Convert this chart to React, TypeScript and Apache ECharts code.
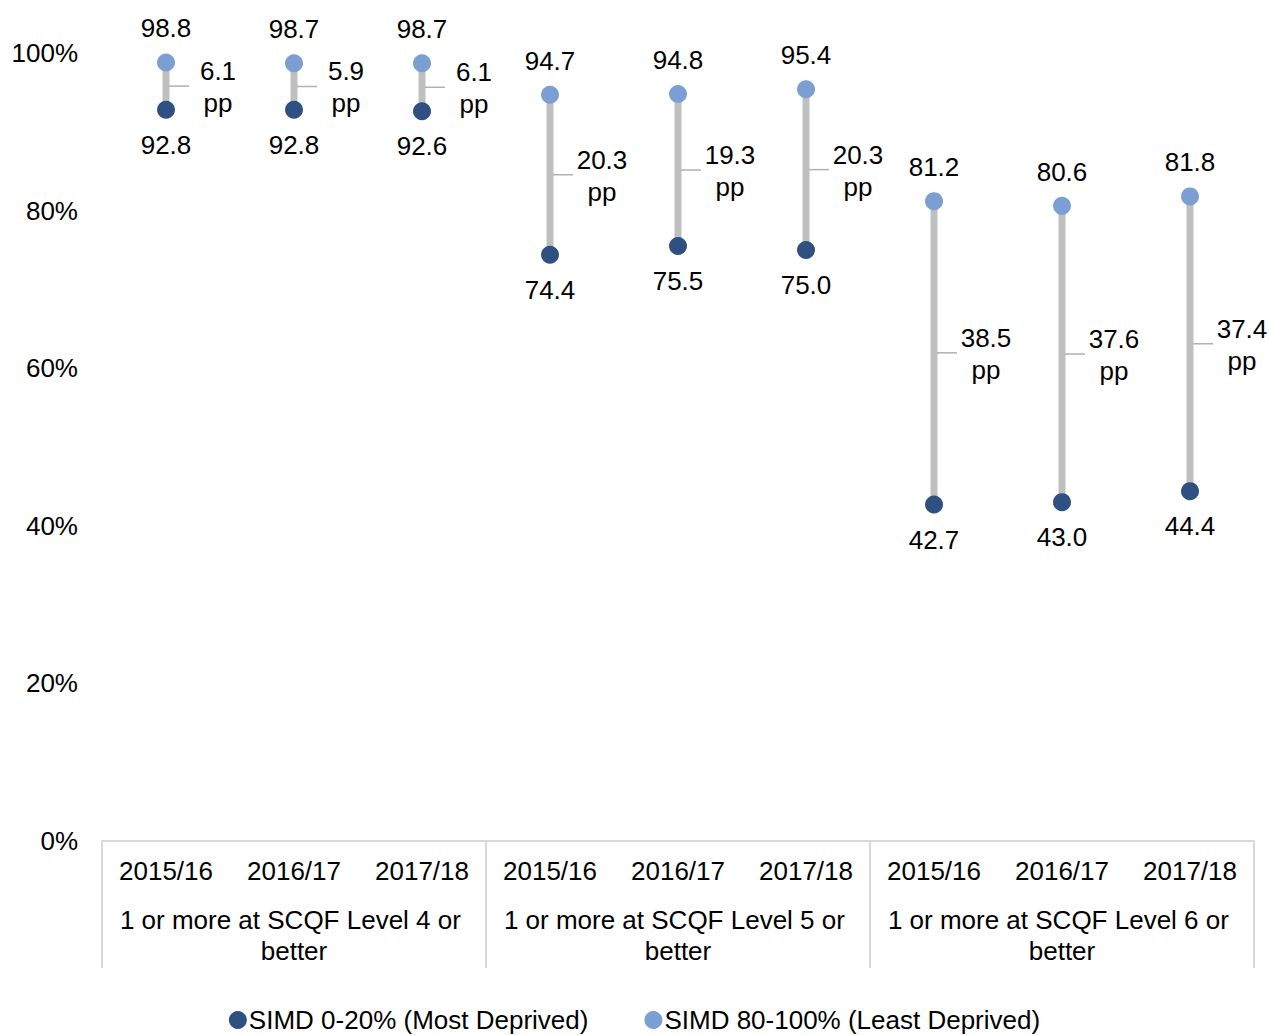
import React, { useEffect, useRef } from "react";
import * as echarts from "echarts";

const categories = ["2015/16", "2016/17", "2017/18", "2015/16", "2016/17", "2017/18", "2015/16", "2016/17", "2017/18"];
const groups = [
  "1 or more at SCQF Level 4 or better",
  "1 or more at SCQF Level 5 or better",
  "1 or more at SCQF Level 6 or better",
];
const mostDeprived = [92.8, 92.8, 92.6, 74.4, 75.5, 75.0, 42.7, 43.0, 44.4];
const leastDeprived = [98.8, 98.7, 98.7, 94.7, 94.8, 95.4, 81.2, 80.6, 81.8];
const gapValues = [6.1, 5.9, 6.1, 20.3, 19.3, 20.3, 38.5, 37.6, 37.4];
const seriesNames = ["SIMD 0-20% (Most Deprived)", "SIMD 80-100% (Least Deprived)"];

const FONT = "'Liberation Sans', Arial, sans-serif";
const FS = 26;
const DARK = "#2f5181";
const LIGHT = "#7b9fd3";
const GREY = "#bfbfbf";
const AXIS = "#d9d9d9";

export default function App() {
  const ref = useRef<HTMLDivElement>(null);
  useEffect(() => {
    if (!ref.current) return;
    const chart = echarts.init(ref.current, null, { renderer: "svg" });
    const rangeData = categories.map((_, i) => [i, mostDeprived[i], leastDeprived[i], gapValues[i]]);
    chart.setOption({
      animation: false,
      textStyle: { fontFamily: FONT },
      grid: { left: 102, right: 15, top: 53, bottom: 194, containLabel: false },
      legend: {
        data: seriesNames,
        top: 1002,
        left: "center",
        icon: "circle",
        itemWidth: 18,
        itemHeight: 18,
        itemGap: 56,
        itemStyle: { borderWidth: 0 },
        textStyle: { fontSize: FS, color: "#000", fontFamily: FONT, padding: [0, 0, 0, -3] },
      },
      xAxis: [
        {
          type: "category",
          data: categories,
          position: "bottom",
          axisLine: { show: true, lineStyle: { color: AXIS, width: 2 } },
          axisTick: {
            show: true,
            length: 127,
            interval: (index: number) => index % 3 === 0,
            lineStyle: { color: AXIS, width: 2 },
          },
          axisLabel: { interval: 0, margin: 17, fontSize: FS, color: "#000", fontFamily: FONT },
          splitLine: { show: false },
        },
        {
          type: "category",
          data: groups,
          position: "bottom",
          axisLine: { show: false },
          axisTick: { show: false },
          axisLabel: {
            interval: 0,
            margin: 63,
            fontSize: FS,
            color: "#000",
            fontFamily: FONT,
            width: 366,
            overflow: "break",
            lineHeight: 31,
          },
          splitLine: { show: false },
        },
      ],
      yAxis: {
        type: "value",
        min: 0,
        max: 100,
        interval: 20,
        axisLine: { show: false },
        axisTick: { show: false },
        splitLine: { show: false },
        axisLabel: { formatter: "{value}%", margin: 24, fontSize: FS, color: "#000", fontFamily: FONT },
      },
      series: [
        {
          type: "custom",
          name: "range",
          xAxisIndex: 0,
          z: 1,
          silent: true,
          encode: { x: 0, y: [1, 2] },
          data: rangeData,
          renderItem: (params: any, api: any) => {
            const i = api.value(0);
            const low = api.value(1);
            const high = api.value(2);
            const gap = api.value(3);
            const top = api.coord([i, high]);
            const bot = api.coord([i, low]);
            const midY = (top[1] + bot[1]) / 2;
            return {
              type: "group",
              children: [
                {
                  type: "line",
                  shape: { x1: top[0], y1: top[1], x2: bot[0], y2: bot[1] },
                  style: { stroke: GREY, lineWidth: 7 },
                },
                {
                  type: "line",
                  shape: { x1: top[0] + 3, y1: midY, x2: top[0] + 23, y2: midY },
                  style: { stroke: "#b0b0b0", lineWidth: 1.5 },
                },
                {
                  type: "text",
                  x: top[0] + 52,
                  y: midY + 1,
                  style: {
                    text: Number(gap).toFixed(1) + "\npp",
                    align: "center",
                    verticalAlign: "middle",
                    fontSize: FS,
                    fontFamily: FONT,
                    lineHeight: 32,
                    fill: "#000",
                  },
                },
              ],
            };
          },
        },
        {
          type: "scatter",
          name: seriesNames[0],
          xAxisIndex: 0,
          z: 3,
          data: mostDeprived,
          symbol: "circle",
          symbolSize: 18,
          itemStyle: { color: DARK, opacity: 1 },
          label: {
            show: true,
            position: "bottom",
            distance: 13,
            fontSize: FS,
            fontFamily: FONT,
            color: "#000",
            formatter: (p: any) => Number(p.value).toFixed(1),
          },
        },
        {
          type: "scatter",
          name: seriesNames[1],
          xAxisIndex: 0,
          z: 3,
          data: leastDeprived,
          symbol: "circle",
          symbolSize: 18,
          itemStyle: { color: LIGHT, opacity: 1 },
          label: {
            show: true,
            position: "top",
            distance: 12,
            fontSize: FS,
            fontFamily: FONT,
            color: "#000",
            formatter: (p: any) => Number(p.value).toFixed(1),
          },
        },
      ],
    });
    return () => chart.dispose();
  }, []);
  return <div ref={ref} style={{ position: "fixed", left: 0, top: 0, width: 1269, height: 1035, background: "#fff" }} />;
}
